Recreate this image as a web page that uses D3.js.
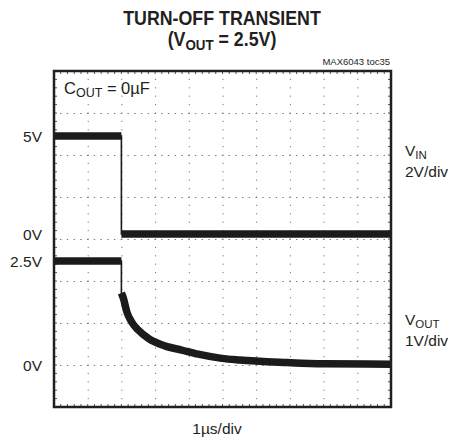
<!DOCTYPE html>
<html><head><meta charset="utf-8">
<script src="https://cdn.jsdelivr.net/npm/d3@7/dist/d3.min.js"></script>
<style>body{margin:0;background:#fff}svg{display:block}text{font-family:"Liberation Sans",Arial,sans-serif;fill:#231f20}</style>
</head><body><svg id="c" width="462" height="444"></svg>
<script>
// ---- data ----
const timeDomain = [0, 10];            // µs, 1µs/div, 10 divisions
const divDomain = [0, 8];              // vertical divisions
const vinTime = [0, 2.0, 2.0, 10];
const vinVolt = [5, 5, 0, 0];
const voutTime = [0, 2.0, 2.0, 2.06, 2.16, 2.30, 2.50, 2.80, 3.29, 3.79, 4.28, 4.98, 5.5, 6.9, 8.0, 10];
const voutVolt = [2.5, 2.5, 1.73, 1.60, 1.28, 1.04, 0.84, 0.64, 0.46, 0.36, 0.26, 0.16, 0.12, 0.06, 0.03, 0.02];
const vinTicks = [5, 0];
const vinTickLabels = ["5V", "0V"];
const voutTicks = [2.5, 0];
const voutTickLabels = ["2.5V", "0V"];

// ---- layout ----
const L = 54, R = 391, T = 71, B = 407;
const svg = d3.select("#c");
const x = d3.scaleLinear().domain(timeDomain).range([L, R]);
const yDiv = d3.scaleLinear().domain(divDomain).range([B, T]);
const yIn = d3.scaleLinear().domain([0, 5]).range([234, 136]);
const yOut = d3.scaleLinear().domain([0, 2.5]).range([365, 261]);

// grid
const gGrid = svg.append("g").attr("stroke", "#777").attr("stroke-width", 1);
const hx = (x(1) - x(0)) / 5, vy = (yDiv(0) - yDiv(1)) / 5;
d3.range(1, 8).forEach(d => {
  gGrid.append("line").attr("x1", L).attr("x2", R).attr("y1", yDiv(d) + 0.5).attr("y2", yDiv(d) + 0.5)
    .attr("stroke-dasharray", `1.4 ${hx - 1.4}`).attr("stroke-dashoffset", 0.7);
});
d3.range(1, 10).forEach(d => {
  gGrid.append("line").attr("x1", x(d) + 0.5).attr("x2", x(d) + 0.5).attr("y1", T).attr("y2", B)
    .attr("stroke-dasharray", `1.2 ${vy - 1.2}`).attr("stroke-dashoffset", 0.6);
});
// border ticks
const gT = svg.append("g").attr("stroke", "#555").attr("stroke-width", 1);
d3.range(0, 51).forEach(i => {
  const xx = L + i * hx;
  gT.append("line").attr("x1", xx).attr("x2", xx).attr("y1", T).attr("y2", T + 3);
  gT.append("line").attr("x1", xx).attr("x2", xx).attr("y1", B).attr("y2", B - 3);
});
d3.range(0, 41).forEach(i => {
  const yy = T + i * vy;
  gT.append("line").attr("x1", L).attr("x2", L + 3).attr("y1", yy).attr("y2", yy);
  gT.append("line").attr("x1", R).attr("x2", R - 3).attr("y1", yy).attr("y2", yy);
});

// traces
function drawTrace(ts, vs, ys, jumpIdx) {
  const pts = ts.map((t, i) => [x(t), ys(vs[i])]);
  svg.append("path").attr("d", d3.line()(pts)).attr("fill", "none").attr("stroke", "#1c1a1a").attr("stroke-width", 1.6);
  svg.append("path").attr("d", d3.line()(pts.slice(0, jumpIdx))).attr("fill", "none").attr("stroke", "#1c1a1a").attr("stroke-width", 7.5);
  svg.append("path").attr("d", d3.line().curve(d3.curveMonotoneX)(pts.slice(jumpIdx))).attr("fill", "none").attr("stroke", "#1c1a1a").attr("stroke-width", 7.5);
}
drawTrace(vinTime, vinVolt, yIn, 2);
drawTrace(voutTime, voutVolt, yOut, 2);

// frame
svg.append("rect").attr("x", L).attr("y", T).attr("width", R - L).attr("height", B - T)
  .attr("fill", "none").attr("stroke", "#231f20").attr("stroke-width", 2.5);

// left labels
vinTicks.forEach((v, i) => svg.append("text").attr("x", 42).attr("y", yIn(v)).attr("dy", "0.36em")
  .attr("text-anchor", "end").attr("font-size", 15.5).text(vinTickLabels[i]));
voutTicks.forEach((v, i) => svg.append("text").attr("x", 42).attr("y", yOut(v)).attr("dy", "0.36em")
  .attr("text-anchor", "end").attr("font-size", 15.5).text(voutTickLabels[i]));

// title
const tg = svg.append("g").attr("transform", "translate(222,0) scale(0.89,1)");
tg.append("text").attr("x", 0).attr("y", 25).attr("text-anchor", "middle").attr("font-size", 20).attr("font-weight", "bold").text("TURN-OFF TRANSIENT");
const t2 = tg.append("text").attr("x", 0).attr("y", 46.5).attr("text-anchor", "middle").attr("font-size", 20).attr("font-weight", "bold");
t2.append("tspan").text("(V");
t2.append("tspan").attr("font-size", 15).attr("dy", 4).text("OUT");
t2.append("tspan").attr("dy", -4).text(" = 2.5V)");

svg.append("text").attr("x", 390).attr("y", 65).attr("text-anchor", "end").attr("font-size", 9.5).attr("fill", "#333").text("MAX6043 toc35");

// Cout label
const c = svg.append("text").attr("x", 64).attr("y", 94).attr("font-size", 16.5);
c.append("tspan").text("C");
c.append("tspan").attr("font-size", 12.5).attr("dy", 3).text("OUT");
c.append("tspan").attr("dy", -3).text(" = 0µF");

// channel labels
function chan(y, name, scale) {
  const t = svg.append("text").attr("x", 405).attr("y", y).attr("font-size", 15.5);
  t.append("tspan").text("V");
  t.append("tspan").attr("font-size", 11.5).attr("dy", 3).text(name);
  svg.append("text").attr("x", 405).attr("y", y + 21).attr("font-size", 15.5).text(scale);
}
chan(156, "IN", "2V/div");
chan(325, "OUT", "1V/div");

svg.append("text").attr("x", 217).attr("y", 434).attr("text-anchor", "middle").attr("font-size", 15.5).text("1µs/div");
</script></body></html>
